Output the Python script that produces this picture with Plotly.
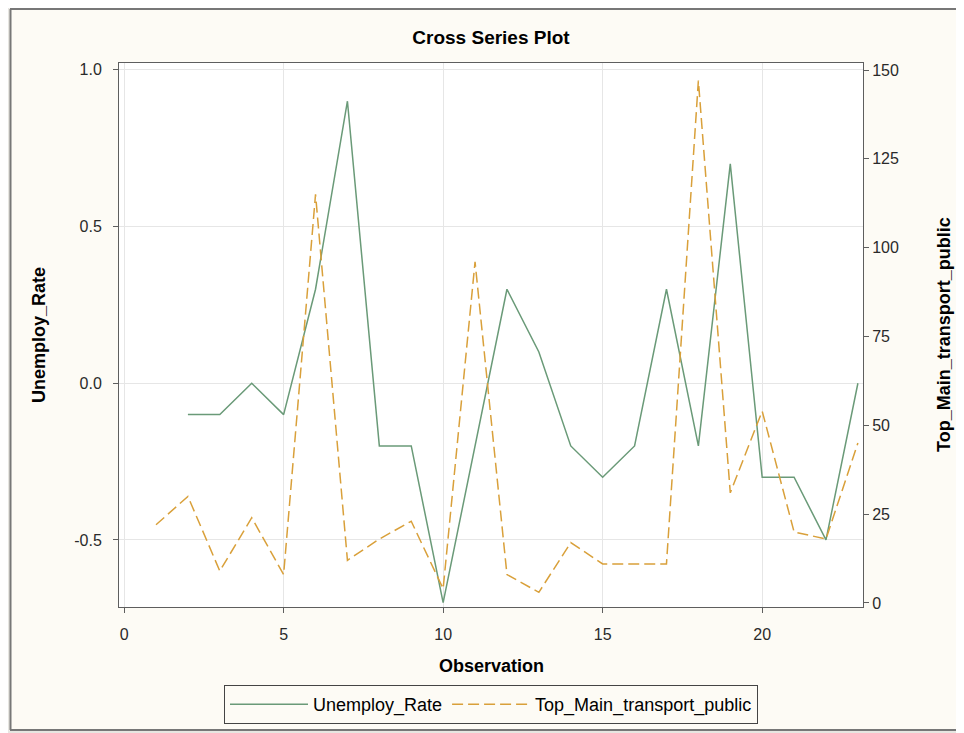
import plotly.graph_objects as go

# ---- data ----
obs_unemp = [2, 3, 4, 5, 6, 7, 8, 9, 10, 11, 12, 13, 14, 15, 16, 17, 18, 19, 20, 21, 22, 23]
unemploy_rate = [-0.1, -0.1, 0.0, -0.1, 0.3, 0.9, -0.2, -0.2, -0.7, -0.2, 0.3, 0.1,
                 -0.2, -0.3, -0.2, 0.3, -0.2, 0.7, -0.3, -0.3, -0.5, 0.0]
obs_transport = [1, 2, 3, 4, 5, 6, 7, 8, 9, 10, 11, 12, 13, 14, 15, 16, 17, 18, 19, 20, 21, 22, 23]
top_main_transport_public = [22, 30, 9, 24, 8, 115, 12, 18, 23, 4, 96, 8, 3, 17, 11, 11, 11,
                             147, 31, 54, 20, 18, 45]

x_ticks = [0, 5, 10, 15, 20]
y1_ticks = [-0.5, 0.0, 0.5, 1.0]
y1_tick_text = ["-0.5", "0.0", "0.5", "1.0"]
y2_ticks = [0, 25, 50, 75, 100, 125, 150]

GREEN = "#6A9A78"
ORANGE = "#D9A03A"
AXIS = "#5E5E5E"
GRID = "#E6E6E6"
CREAM = "#FDFBF5"
OUTER = "#E7E6E1"
FONT = "Liberation Sans, Arial, sans-serif"
TICKC = "#2A2A2A"

# page offset (browser body margin) and figure size
OFF = 8
W, H = 964 - OFF, 733 - OFF
# plot area in screen pixels
SL, SR, ST, SB = 119, 863, 63, 607
L, R, T, B = SL - OFF, (OFF + W) - SR, ST - OFF, (OFF + H) - SB
pw, ph = SR - SL, SB - ST


def px_x(sx):
    return (sx - SL) / pw


def px_y(sy):
    return (SB - sy) / ph


fig = go.Figure()
fig.add_trace(go.Scatter(
    x=obs_unemp, y=unemploy_rate, mode="lines", name="Unemploy_Rate",
    line=dict(color=GREEN, width=1.5), yaxis="y"))
fig.add_trace(go.Scatter(
    x=obs_transport, y=top_main_transport_public, mode="lines",
    name="Top_Main_transport_public",
    line=dict(color=ORANGE, width=1.5, dash="11px,5px"), yaxis="y2"))

shapes = [
    dict(type="rect", xref="paper", yref="paper", x0=px_x(0), x1=px_x(9.5),
         y0=px_y(740), y1=px_y(0), fillcolor=OUTER, line=dict(width=0), layer="below"),
    dict(type="rect", xref="paper", yref="paper", x0=px_x(0), x1=px_x(970),
         y0=px_y(740), y1=px_y(731), fillcolor=OUTER, line=dict(width=0), layer="below"),
    dict(type="line", xref="paper", yref="paper", x0=px_x(10), x1=px_x(970),
         y0=px_y(9), y1=px_y(9), line=dict(color="#777777", width=2)),
    dict(type="line", xref="paper", yref="paper", x0=px_x(10), x1=px_x(970),
         y0=px_y(730), y1=px_y(730), line=dict(color="#777777", width=2)),
    dict(type="line", xref="paper", yref="paper", x0=px_x(10.5), x1=px_x(10.5),
         y0=px_y(9), y1=px_y(730), line=dict(color="#777777", width=2)),
]

annotations = [
    dict(text="<b>Unemploy_Rate</b>", xref="paper", yref="paper", x=px_x(39), y=0.5,
         xanchor="center", yanchor="middle", textangle=-90, showarrow=False,
         font=dict(family=FONT, size=18, color="#000000")),
    dict(text="<b>Top_Main_transport_public</b>", xref="paper", yref="paper", x=px_x(944), y=0.5,
         xanchor="center", yanchor="middle", textangle=-90, showarrow=False,
         font=dict(family=FONT, size=18, color="#000000")),
    dict(text="<b>Observation</b>", xref="paper", yref="paper", x=0.5, y=px_y(666),
         xanchor="center", yanchor="middle", showarrow=False,
         font=dict(family=FONT, size=18, color="#000000")),
]

tickfont = dict(family=FONT, size=16, color=TICKC)

fig.update_layout(
    width=W, height=H,
    margin=dict(l=L, r=R, t=T, b=B, pad=0, autoexpand=False),
    paper_bgcolor=CREAM, plot_bgcolor="#FFFFFF",
    font=dict(family=FONT, size=16, color=TICKC),
    title=dict(text="<b>Cross Series Plot</b>", x=0.5, xref="paper", xanchor="center",
               y=1 - (37 - OFF) / H, yref="container", yanchor="middle",
               font=dict(family=FONT, size=19, color="#000000")),
    xaxis=dict(range=[-0.16, 23.16], tickvals=x_ticks, ticks="outside", ticklen=5,
               tickcolor=AXIS, showline=True, linecolor=AXIS, linewidth=1, mirror=True,
               showgrid=True, gridcolor=GRID, gridwidth=1, zeroline=False,
               ticklabelstandoff=8, tickfont=tickfont),
    yaxis=dict(range=[-0.714, 1.022], tickvals=y1_ticks, ticktext=y1_tick_text,
               ticks="outside", ticklen=5, tickcolor=AXIS, showline=True, linecolor=AXIS,
               linewidth=1, showgrid=True, gridcolor=GRID, gridwidth=1, zeroline=False,
               ticklabelstandoff=8, tickfont=tickfont),
    yaxis2=dict(range=[-1.13, 151.97], tickvals=y2_ticks, overlaying="y", side="right",
                ticks="outside", ticklen=5, tickcolor=AXIS, showline=True, linecolor=AXIS,
                linewidth=1, showgrid=False, zeroline=False, tickfont=tickfont),
    legend=dict(orientation="h", x=0.5, xanchor="center", y=px_y(685), yanchor="top",
                bgcolor=CREAM, bordercolor="#444444", borderwidth=1,
                font=dict(family=FONT, size=18, color="#000000"),
                itemwidth=78, tracegroupgap=0),
    showlegend=True,
    shapes=shapes,
    annotations=annotations,
)

fig.write_html("out.html")
